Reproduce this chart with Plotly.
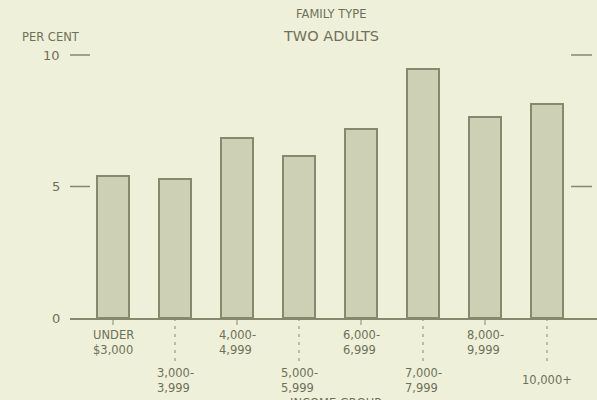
import plotly.graph_objects as go

categories = ["UNDER<br>$3,000", "3,000-<br>3,999", "4,000-<br>4,999", "5,000-<br>5,999",
              "6,000-<br>6,999", "7,000-<br>7,999", "8,000-<br>9,999", "10,000+"]
values = [5.4, 5.3, 6.85, 6.15, 7.2, 9.45, 7.65, 8.15]
y_ticks = [0, 5, 10]

BG = "#eef0d9"
BAR = "#cdd0b4"
EDGE = "#868a6c"
TXT = "#6e715a"
FONT = "DejaVu Sans"

W, H = 597, 400
L, R, T, B = 70, 0, 40, 82
plot_w = W - L - R
plot_h = H - T - B
px_per_unit = 26.3
x0_px, step_px = 113, 62.0
xr = [(L - x0_px) / step_px, (W - R - x0_px) / step_px]
yr = [0, plot_h / px_per_unit]

xs = list(range(len(values)))
fig = go.Figure(go.Bar(x=xs, y=values, width=32 / step_px,
                       marker=dict(color=BAR, line=dict(color=EDGE, width=2))))

def px_to_paper_y(py):
    return (H - B - py) / plot_h

shapes = []
annotations = []
for i, (x, lab) in enumerate(zip(xs, categories)):
    if i % 2 == 0:
        shapes.append(dict(type="line", xref="x", yref="paper", x0=x, x1=x,
                           y0=0, y1=px_to_paper_y(325), line=dict(color=EDGE, width=1)))
        ly = 342
    else:
        shapes.append(dict(type="line", xref="x", yref="paper", x0=x, x1=x,
                           y0=0, y1=px_to_paper_y(365), line=dict(color=EDGE, width=1, dash="3px,5px")))
        ly = 380
    annotations.append(dict(x=x, xref="x", y=px_to_paper_y(ly), yref="paper", text=lab,
                            showarrow=False, align="left", xanchor="center", yanchor="middle",
                            font=dict(family=FONT, size=11.5, color=TXT)))

for v in y_ticks[1:]:
    shapes.append(dict(type="line", xref="paper", yref="y", x0=0, x1=20 / plot_w, y0=v, y1=v,
                       line=dict(color=EDGE, width=1.5)))
    shapes.append(dict(type="line", xref="paper", yref="y", x0=(571 - L) / plot_w,
                       x1=(592 - L) / plot_w, y0=v, y1=v, line=dict(color=EDGE, width=1.5)))
for v in y_ticks:
    annotations.append(dict(x=-8 / plot_w, xref="paper", y=v, yref="y", text=str(v),
                            showarrow=False, xanchor="right", yanchor="middle",
                            font=dict(family=FONT, size=13, color=TXT)))

annotations += [
    dict(x=(331 - L) / plot_w, xref="paper", y=px_to_paper_y(14), yref="paper", text="FAMILY TYPE",
         showarrow=False, xanchor="center", yanchor="middle", font=dict(family=FONT, size=11.5, color=TXT)),
    dict(x=(331 - L) / plot_w, xref="paper", y=px_to_paper_y(36), yref="paper", text="TWO ADULTS",
         showarrow=False, xanchor="center", yanchor="middle", font=dict(family=FONT, size=14.5, color=TXT)),
    dict(x=(51 - L) / plot_w, xref="paper", y=px_to_paper_y(37), yref="paper", text="PER CENT",
         showarrow=False, xanchor="center", yanchor="middle", font=dict(family=FONT, size=11.5, color=TXT)),
    dict(x=(335 - L) / plot_w, xref="paper", y=px_to_paper_y(403), yref="paper", text="INCOME GROUP",
         showarrow=False, xanchor="center", yanchor="middle", font=dict(family=FONT, size=11.5, color=TXT)),
]

fig.update_layout(
    width=W, height=H, margin=dict(l=L, r=R, t=T, b=B),
    paper_bgcolor=BG, plot_bgcolor=BG, showlegend=False,
    shapes=shapes, annotations=annotations,
    xaxis=dict(range=xr, showgrid=False, zeroline=False, showticklabels=False, ticks="",
               showline=True, linecolor=EDGE, linewidth=2),
    yaxis=dict(range=yr, showgrid=False, zeroline=False, showticklabels=False, ticks="",
               showline=False),
    bargap=0,
)
fig.write_html("out.html", config={"displayModeBar": False},
               post_script="document.body.style.margin='0';document.body.style.overflow='hidden';document.body.style.background='" + BG + "';")
